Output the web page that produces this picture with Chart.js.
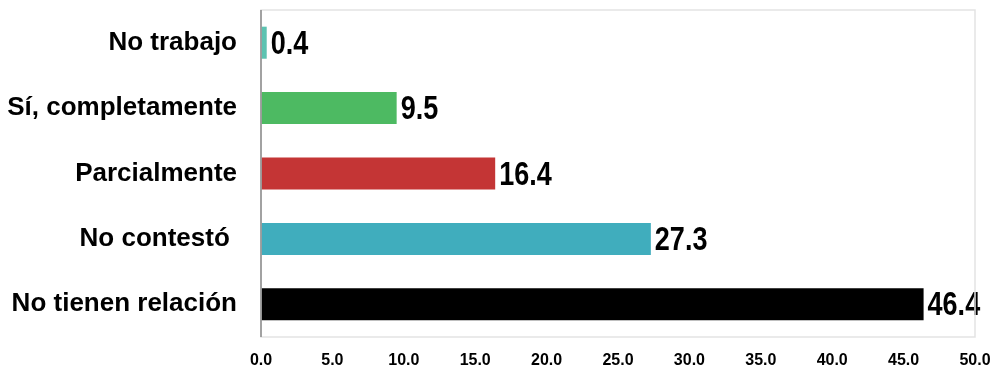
<!DOCTYPE html>
<html><head><meta charset="utf-8">
<script src="https://cdn.jsdelivr.net/npm/chart.js@4"></script>
<style>html,body{margin:0;padding:0;background:#fff}#wrap{width:994px;height:369px}</style>
</head><body><div id="wrap"><canvas id="c"></canvas></div>
<script>
const categories = ["No trabajo", "Sí, completamente", "Parcialmente", "No contestó ", "No tienen relación"];
const values = [0.4, 9.5, 16.4, 27.3, 46.4];
const barColors = ["#5cc3b1", "#4dba62", "#c43535", "#40adbd", "#000000"];
const xTicks = [0, 5, 10, 15, 20, 25, 30, 35, 40, 45, 50];

const FONT = "'Liberation Sans', Arial, sans-serif";

const framePlugin = {
  id: 'frame',
  afterDraw(chart) {
    const {ctx, chartArea: a} = chart;
    ctx.save();
    ctx.strokeStyle = '#e3e3e3';
    ctx.lineWidth = 1.5;
    ctx.strokeRect(a.left, a.top, a.right - a.left, a.bottom - a.top);
    ctx.strokeStyle = '#8a8a8a';
    ctx.beginPath(); ctx.moveTo(a.left, a.top); ctx.lineTo(a.left, a.bottom); ctx.stroke();
    ctx.restore();
  }
};
const valueLabels = {
  id: 'valueLabels',
  afterDatasetsDraw(chart) {
    const {ctx} = chart;
    const meta = chart.getDatasetMeta(0);
    ctx.save();
    ctx.font = "bold 30px " + FONT;
    ctx.fillStyle = '#000';
    ctx.textAlign = 'left';
    ctx.textBaseline = 'middle';
    meta.data.forEach((bar, i) => {
      ctx.save();
      ctx.translate(bar.x + 4, bar.y + 2);
      ctx.scale(0.9, 1.1);
      ctx.fillText(values[i].toFixed(1), 0, 0);
      ctx.restore();
    });
    ctx.restore();
  }
};

new Chart(document.getElementById('c'), {
  type: 'bar',
  data: {
    labels: categories,
    datasets: [{ data: values, backgroundColor: barColors, barPercentage: 0.49, categoryPercentage: 1.0 }]
  },
  options: {
    indexAxis: 'y',
    responsive: true,
    maintainAspectRatio: false,
    animation: false,
    layout: { padding: { left: 0, right: 19, top: 10, bottom: 0 } },
    plugins: { legend: { display: false }, tooltip: { enabled: false } },
    scales: {
      x: {
        min: 0, max: 50,
        afterBuildTicks(axis) { axis.ticks = xTicks.map(v => ({ value: v })); },
        ticks: { color: '#000', font: { family: FONT, size: 16, weight: 'bold' }, padding: 14, callback: v => Number(v).toFixed(1), maxRotation: 0 },
        grid: { display: false, drawTicks: false },
        border: { display: false },
        afterFit(axis) { axis.height = 32; axis.paddingLeft = 0; axis.paddingRight = 0; }
      },
      y: {
        ticks: { color: '#000', font: { family: FONT, size: 26, weight: 'bold' }, padding: 24 },
        grid: { display: false, drawTicks: false },
        border: { display: false },
        afterFit(axis) { axis.width = 261; axis.paddingTop = 0; axis.paddingBottom = 0; }
      }
    }
  },
  plugins: [framePlugin, valueLabels]
});
</script></body></html>
